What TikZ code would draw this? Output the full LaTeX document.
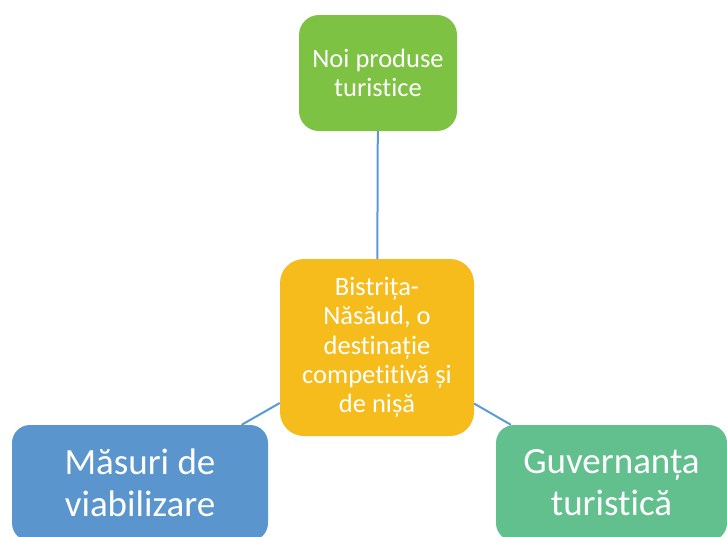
\documentclass[tikz,border=0pt]{standalone}
\usepackage{fontspec}
\setmainfont{Carlito}[Ligatures=NoCommon]
\usepackage{xcolor}
\definecolor{prodGreen}{RGB}{125, 194, 67}
\definecolor{hubYellow}{RGB}{245, 188, 28}
\definecolor{masBlue}{RGB}{90, 150, 205}
\definecolor{guvGreen}{RGB}{98, 192, 142}
\definecolor{linkBlue}{RGB}{91, 155, 213}
\usepackage{tikz}
\usetikzlibrary{positioning}

\begin{document}
\begin{tikzpicture}[x=1pt, y=-1pt,
    hubbox/.style={
        rectangle, fill=hubYellow, rounded corners=24pt, text=white,
        minimum width=194pt, minimum height=177pt, inner sep=0pt,
        align=center, font=\fontsize{26.5}{29.3}\selectfont
    },
    topbox/.style={
        rectangle, fill=prodGreen, rounded corners=20pt, text=white,
        minimum width=158pt, minimum height=116pt, inner sep=0pt,
        align=center, font=\fontsize{26.5}{29.3}\selectfont
    },
    leafbox/.style={
        rectangle, rounded corners=18pt, text=white,
        minimum height=116pt, inner sep=0pt,
        align=center, font=\fontsize{37}{42}\selectfont
    },
    link/.style={line width=2pt, linkBlue}
]
\useasboundingbox (0,0) rectangle (727,536);
\clip (0,0) rectangle (727,536);

\node[hubbox] (hub) at (377,347.5) {Bistrița-\\Năsăud, o\\destinație\\competitivă și\\de nișă};
\node[topbox] (prod) at (378,73) {Noi produse\\turistice};
\node[leafbox, fill=masBlue, minimum width=256pt] (mas) at (140,483) {Măsuri de\\viabilizare};
\node[leafbox, fill=guvGreen, minimum width=231pt] (guv) at (611.5,483) {Guvernanța\\turistică};

\draw[link] (hub) -- (prod);
\draw[link] (hub) -- (mas);
\draw[link] (hub) -- (guv);

\end{tikzpicture}
\end{document}
